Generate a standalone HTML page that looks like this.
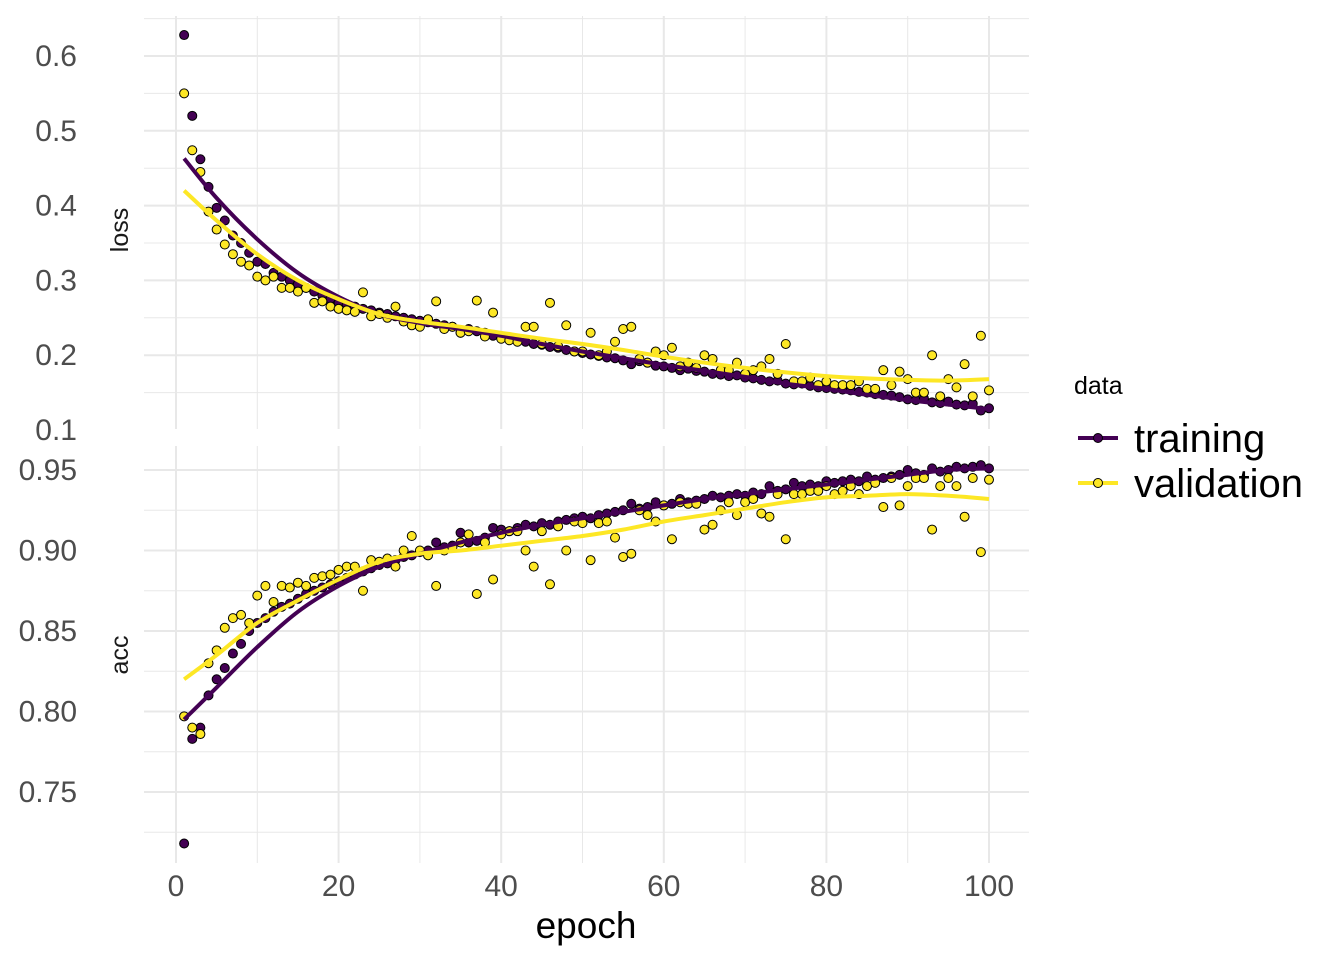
<!DOCTYPE html>
<html><head><meta charset="utf-8"><style>
body{margin:0;background:#fff;}
svg{font-family:"Liberation Sans",Arial,sans-serif;}
</style></head><body>
<svg id="chart" width="1344" height="960">
<g id="grid"></g>
<g id="marks"></g>
<g id="axes"></g>
<text x="586" y="938" font-size="37" text-anchor="middle" fill="#000">epoch</text>
<text transform="translate(128,230) rotate(-90)" font-size="25" text-anchor="middle" fill="#1a1a1a">loss</text>
<text transform="translate(128,655) rotate(-90)" font-size="25" text-anchor="middle" fill="#1a1a1a">acc</text>
<g>
<text x="1074" y="394" font-size="25" fill="#000">data</text>
<g>
<line x1="1078" y1="438" x2="1118" y2="438" stroke="#440154" stroke-width="4"/>
<circle cx="1098" cy="438" r="4.5" fill="#440154" stroke="#000" stroke-width="1"/>
<text x="1134" y="452" font-size="40" fill="#000">training</text></g>
<g>
<line x1="1078" y1="483" x2="1118" y2="483" stroke="#FDE725" stroke-width="4"/>
<circle cx="1098" cy="483" r="4.5" fill="#FDE725" stroke="#000" stroke-width="1"/>
<text x="1134" y="497" font-size="40" fill="#000">validation</text></g>
</g>
</svg>
<script>
const trainLoss=[0.628,0.52,0.462,0.425,0.397,0.38,0.36,0.35,0.337,0.325,0.322,0.31,0.305,0.30,0.295,0.29,0.285,0.28,0.275,0.27,0.268,0.265,0.262,0.26,0.257,0.255,0.252,0.25,0.248,0.246,0.244,0.242,0.24,0.238,0.23,0.235,0.232,0.23,0.226,0.224,0.222,0.22,0.218,0.215,0.214,0.211,0.21,0.207,0.205,0.203,0.201,0.199,0.197,0.196,0.193,0.188,0.192,0.19,0.186,0.185,0.183,0.18,0.182,0.179,0.178,0.175,0.174,0.172,0.173,0.17,0.169,0.167,0.165,0.166,0.162,0.161,0.162,0.159,0.157,0.156,0.155,0.154,0.153,0.151,0.15,0.148,0.147,0.146,0.144,0.141,0.14,0.142,0.137,0.136,0.138,0.134,0.133,0.135,0.126,0.129];
const valLoss=[0.55,0.474,0.445,0.392,0.368,0.348,0.335,0.325,0.32,0.305,0.3,0.305,0.29,0.29,0.285,0.29,0.27,0.272,0.265,0.262,0.26,0.258,0.284,0.252,0.255,0.25,0.265,0.245,0.24,0.238,0.248,0.272,0.235,0.238,0.23,0.232,0.273,0.225,0.257,0.222,0.22,0.218,0.238,0.238,0.215,0.27,0.212,0.24,0.205,0.205,0.23,0.2,0.205,0.218,0.235,0.238,0.195,0.19,0.205,0.2,0.21,0.185,0.19,0.183,0.2,0.195,0.18,0.18,0.19,0.175,0.18,0.185,0.195,0.175,0.215,0.165,0.165,0.17,0.16,0.165,0.16,0.16,0.16,0.165,0.155,0.155,0.18,0.16,0.178,0.168,0.15,0.15,0.2,0.145,0.168,0.157,0.188,0.145,0.226,0.153];
const trainAcc=[0.718,0.783,0.79,0.81,0.82,0.827,0.836,0.842,0.85,0.855,0.858,0.862,0.865,0.867,0.87,0.873,0.875,0.877,0.879,0.881,0.883,0.885,0.887,0.889,0.891,0.892,0.894,0.896,0.897,0.899,0.9,0.905,0.902,0.903,0.911,0.905,0.906,0.908,0.914,0.913,0.912,0.914,0.916,0.915,0.917,0.916,0.918,0.919,0.92,0.921,0.92,0.922,0.923,0.924,0.925,0.929,0.926,0.927,0.93,0.928,0.929,0.932,0.93,0.931,0.932,0.934,0.933,0.934,0.935,0.934,0.936,0.935,0.94,0.937,0.938,0.942,0.94,0.941,0.94,0.943,0.942,0.943,0.944,0.943,0.946,0.944,0.945,0.946,0.947,0.95,0.948,0.947,0.951,0.949,0.95,0.952,0.951,0.952,0.953,0.951];
const valAcc=[0.797,0.79,0.786,0.83,0.838,0.852,0.858,0.86,0.855,0.872,0.878,0.868,0.878,0.877,0.88,0.878,0.883,0.884,0.885,0.888,0.89,0.89,0.875,0.894,0.893,0.895,0.89,0.9,0.909,0.9,0.897,0.878,0.9,0.902,0.905,0.91,0.873,0.905,0.882,0.91,0.912,0.912,0.9,0.89,0.912,0.879,0.915,0.9,0.918,0.917,0.894,0.917,0.918,0.908,0.896,0.898,0.925,0.922,0.918,0.928,0.907,0.93,0.929,0.929,0.913,0.916,0.925,0.93,0.922,0.93,0.932,0.923,0.921,0.935,0.907,0.935,0.935,0.937,0.937,0.94,0.935,0.937,0.94,0.935,0.94,0.942,0.927,0.945,0.928,0.94,0.945,0.945,0.913,0.94,0.945,0.94,0.921,0.945,0.899,0.944];
const smoothEpochs=[1,5,10,15,20,25,30,35,40,45,50,55,60,65,70,75,80,85,90,95,100];
const trainLossSmooth=[0.463,0.41,0.355,0.31,0.278,0.255,0.243,0.235,0.226,0.215,0.205,0.196,0.187,0.179,0.171,0.162,0.155,0.147,0.14,0.134,0.128];
const valLossSmooth=[0.42,0.38,0.335,0.3,0.275,0.255,0.245,0.238,0.23,0.222,0.215,0.207,0.198,0.19,0.183,0.177,0.172,0.169,0.167,0.166,0.168];
const trainAccSmooth=[0.795,0.815,0.84,0.862,0.878,0.89,0.898,0.905,0.911,0.916,0.92,0.924,0.928,0.932,0.935,0.938,0.941,0.944,0.947,0.95,0.951];
const valAccSmooth=[0.82,0.835,0.855,0.869,0.882,0.893,0.898,0.9,0.903,0.906,0.909,0.913,0.918,0.922,0.926,0.93,0.933,0.934,0.935,0.934,0.932];
const xTicks=[0,20,40,60,80,100];
const lossTicks=[0.1,0.2,0.3,0.4,0.5,0.6];
const accTicks=[0.75,0.80,0.85,0.90,0.95];

const NS='http://www.w3.org/2000/svg';
const X0=144,X1=1029;
const x=v=>176+v*8.13;
const yLoss=v=>430-(v-0.1)*748;
const yAcc=v=>470-(v-0.95)*1610;
const panels=[{top:16,bot:429,y:yLoss,ticks:lossTicks,step:0.1,lo:0.1,hi:0.65,fmt:v=>v.toFixed(1),name:'loss'},
{top:446,bot:863,y:yAcc,ticks:accTicks,step:0.05,lo:0.70,hi:0.965,fmt:v=>v.toFixed(2),name:'acc'}];
function mk(tag,attrs,parent){const e=document.createElementNS(NS,tag);for(const k in attrs)e.setAttribute(k,attrs[k]);parent.appendChild(e);return e;}
const grid=document.getElementById('grid'),marks=document.getElementById('marks'),axes=document.getElementById('axes');
panels.forEach(p=>{
  for(let v=p.lo-p.step/2;v<=p.hi;v+=p.step/2){
    const yy=p.y(v);if(yy<p.top||yy>p.bot)continue;
    const major=p.ticks.some(t=>Math.abs(t-v)<1e-6);
    const l=mk('line',{x1:X0,x2:X1,y1:yy,y2:yy,stroke:'#e8e8e8','stroke-width':major?2:1},grid);
    
    
  }
  for(let v=0;v<=100;v+=10){
    const major=v%20===0;
    const l=mk('line',{x1:x(v),x2:x(v),y1:p.top,y2:p.bot,stroke:'#e8e8e8','stroke-width':major?2:1},grid);
    
    
  }
  p.ticks.forEach(t=>{
    const tx=mk('text',{x:77,y:p.y(t)+10,'font-size':30,'text-anchor':'end',fill:'#4d4d4d'},axes);
    tx.textContent=p.fmt(t);
    
    
  });
});
xTicks.forEach(t=>{
  const tx=mk('text',{x:x(t),y:896,'font-size':30,'text-anchor':'middle',fill:'#4d4d4d'},axes);
  tx.textContent=t;
  
  
});
function pts(arr,yf,color,name){
  arr.forEach((v,i)=>{
    const c=mk('circle',{cx:x(i+1),cy:yf(v),r:4.5,fill:color,stroke:'#000','stroke-width':1},marks);
    
    
  });
}
function smooth(arr,yf,color,name){
  const P=arr.map((v,i)=>[x(smoothEpochs[i]),yf(v)]);
  let d='M'+P[0][0].toFixed(1)+','+P[0][1].toFixed(1);
  for(let i=0;i<P.length-1;i++){
    const p0=P[Math.max(i-1,0)],p1=P[i],p2=P[i+1],p3=P[Math.min(i+2,P.length-1)];
    const c1=[p1[0]+(p2[0]-p0[0])/6,p1[1]+(p2[1]-p0[1])/6];
    const c2=[p2[0]-(p3[0]-p1[0])/6,p2[1]-(p3[1]-p1[1])/6];
    d+='C'+c1[0].toFixed(1)+','+c1[1].toFixed(1)+' '+c2[0].toFixed(1)+','+c2[1].toFixed(1)+' '+p2[0].toFixed(1)+','+p2[1].toFixed(1);
  }
  const p=mk('path',{d:d,fill:'none',stroke:color,'stroke-width':4,'stroke-linejoin':'round'},marks);
  
  
}
pts(trainLoss,yLoss,'#440154','training-loss-point');
pts(valLoss,yLoss,'#FDE725','validation-loss-point');
pts(trainAcc,yAcc,'#440154','training-acc-point');
pts(valAcc,yAcc,'#FDE725','validation-acc-point');
smooth(trainLossSmooth,yLoss,'#440154','training-loss-smooth');
smooth(valLossSmooth,yLoss,'#FDE725','validation-loss-smooth');
smooth(trainAccSmooth,yAcc,'#440154','training-acc-smooth');
smooth(valAccSmooth,yAcc,'#FDE725','validation-acc-smooth');
</script>
</body></html>
